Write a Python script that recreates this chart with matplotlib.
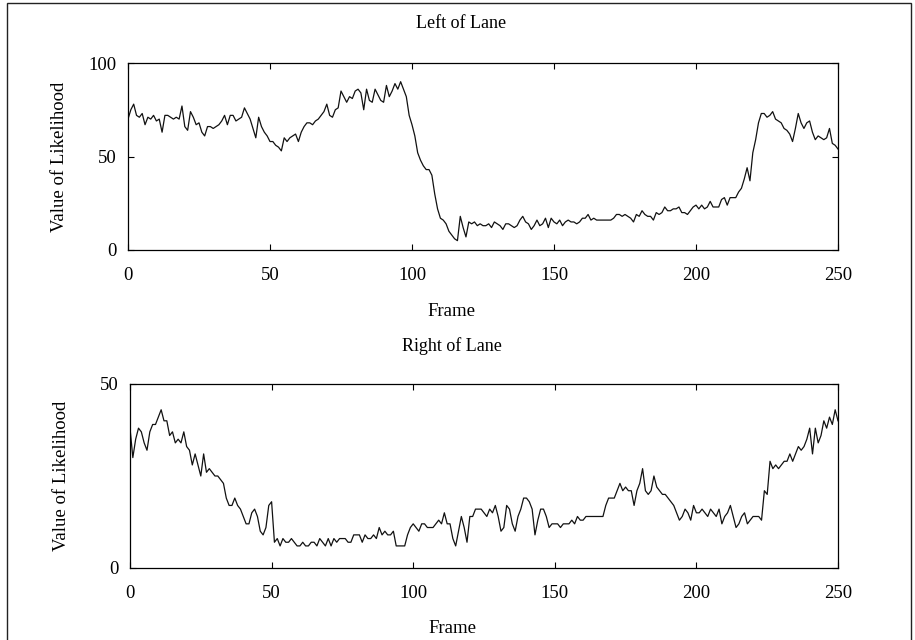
import numpy as np
import matplotlib.pyplot as plt
from matplotlib.patches import Rectangle

# likelihood per frame (frames 0..250)
left_lane = [
    70, 75, 78, 72, 71, 73, 67, 71, 70, 72, 69, 70, 63, 72, 72, 71, 70, 71, 70, 77,
    66, 64, 74, 71, 67, 68, 63, 61, 66, 66, 65, 66, 67, 69, 72, 67, 72, 72, 69, 70,
    71, 76, 73, 70, 65, 60, 71, 66, 63, 61, 58, 58, 56, 55, 53, 60, 58, 60, 61, 62,
    58, 63, 66, 68, 68, 67, 69, 70, 72, 74, 78, 72, 71, 75, 76, 85, 82, 79, 82, 81,
    85, 86, 84, 75, 86, 80, 79, 86, 83, 80, 79, 88, 82, 85, 89, 86, 90, 86, 82, 72,
    67, 61, 52, 48, 45, 43, 43, 40, 30, 22, 17, 16, 14, 10, 8, 6, 5, 18, 12, 7,
    15, 14, 15, 13, 14, 13, 13, 14, 12, 15, 14, 13, 11, 14, 14, 13, 12, 13, 16, 18,
    15, 14, 11, 13, 16, 13, 14, 17, 12, 17, 15, 14, 16, 13, 15, 16, 15, 15, 14, 15,
    17, 17, 19, 16, 17, 16, 16, 16, 16, 16, 16, 17, 19, 19, 18, 19, 18, 17, 15, 19,
    18, 21, 19, 18, 18, 16, 20, 19, 20, 23, 21, 21, 22, 22, 23, 20, 20, 19, 21, 23,
    24, 22, 24, 22, 23, 26, 23, 23, 23, 27, 28, 24, 28, 28, 28, 31, 33, 38, 44, 37,
    52, 59, 68, 73, 73, 71, 72, 74, 70, 69, 68, 65, 64, 62, 58, 65, 73, 68, 65, 68,
    69, 63, 59, 61, 60, 59, 60, 65, 57, 56, 54,
]

right_lane = [
    38, 30, 35, 38, 37, 34, 32, 37, 39, 39, 41, 43, 40, 40, 36, 37, 34, 35, 34, 37,
    33, 32, 28, 31, 28, 25, 31, 26, 27, 26, 25, 25, 24, 23, 19, 17, 17, 19, 17, 16,
    14, 12, 12, 15, 16, 14, 10, 9, 11, 17, 18, 7, 8, 6, 8, 7, 7, 8, 7, 6,
    6, 7, 6, 6, 7, 7, 6, 8, 7, 6, 8, 6, 8, 7, 8, 8, 8, 7, 7, 9,
    9, 9, 7, 9, 8, 8, 9, 8, 11, 9, 10, 9, 9, 10, 6, 6, 6, 6, 9, 11,
    12, 11, 10, 12, 12, 11, 11, 11, 12, 13, 12, 15, 12, 12, 8, 6, 10, 14, 11, 7,
    14, 14, 16, 16, 16, 15, 14, 16, 15, 17, 14, 10, 11, 17, 16, 12, 10, 14, 16, 19,
    19, 18, 16, 9, 13, 16, 16, 14, 11, 12, 12, 12, 11, 12, 12, 12, 13, 12, 14, 13,
    13, 14, 14, 14, 14, 14, 14, 14, 17, 19, 19, 19, 21, 23, 21, 22, 21, 21, 17, 21,
    23, 27, 21, 20, 21, 25, 22, 21, 20, 20, 19, 18, 17, 15, 13, 14, 16, 15, 13, 17,
    15, 15, 16, 15, 14, 16, 15, 14, 16, 12, 14, 15, 17, 14, 11, 12, 14, 15, 12, 13,
    14, 14, 14, 13, 21, 20, 29, 27, 28, 27, 28, 29, 29, 31, 29, 31, 33, 32, 33, 35,
    38, 31, 38, 34, 36, 40, 38, 41, 39, 43, 40,
]

frames = np.arange(len(left_lane))
x_ticks = [0, 50, 100, 150, 200, 250]

plt.rcParams['font.family'] = ['Liberation Serif', 'DejaVu Serif']

fig = plt.figure(figsize=(9.15, 6.4), dpi=100)
W, H = 915.0, 640.0

# scanned frame around the figure
fig.patches.append(Rectangle((0.008, -0.01), 0.988, 1.005, transform=fig.transFigure,
                             fill=False, lw=1.0, ec='#222222'))

ax1 = fig.add_axes([128 / W, 1 - 250 / H, 710 / W, 187 / H])
ax2 = fig.add_axes([130 / W, 1 - 568 / H, 708 / W, 184 / H])

panels = [
    (ax1, left_lane, [0, 50, 100], 100, 'Left of Lane', (461, 24)),
    (ax2, right_lane, [0, 50], 50, 'Right of Lane', (452, 346)),
]

for ax, vals, yt, ymax, title, tpos in panels:
    ax.plot(frames, vals, color='#111111', lw=0.9)
    ax.set_xlim(0, 250)
    ax.set_ylim(0, ymax)
    ax.set_xticks(x_ticks)
    ax.set_yticks(yt)
    ax.tick_params(direction='in', top=True, right=True, length=4, width=0.8, labelsize=13.5)
    ax.tick_params(axis='x', pad=12)
    ax.tick_params(axis='y', pad=8)
    for s in ax.spines.values():
        s.set_linewidth(0.9)
    ax.set_xlabel('Frame', fontsize=13.5)
    ax.set_ylabel('Value of Likelihood', fontsize=13.5)
    ax.xaxis.set_label_coords(0.456, -0.283)
    ax.yaxis.set_label_coords(-0.085, 0.5)
    fig.text(tpos[0] / W, 1 - tpos[1] / H, title, fontsize=13, ha='center', va='center')

fig.savefig('out.png', dpi=100)
